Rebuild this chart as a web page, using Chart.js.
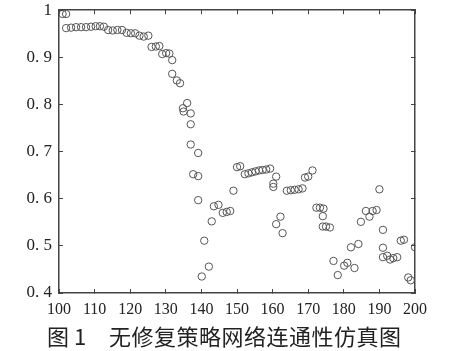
<!DOCTYPE html>
<html lang="zh">
<head>
    <meta charset="UTF-8">
    <title>无修复策略网络连通性仿真图</title>
    <script src="https://cdn.jsdelivr.net/npm/chart.js"></script>
    <style>
        body {
            margin: 0;
            background: white;
        }
        .wrap {
            position: relative;
            width: 456px;
            height: 351px;
            overflow: hidden;
        }
        /* canvas shifted up so the plot frame starts near the top edge */
        #chart {
            position: absolute;
            left: 0;
            top: -11px;
        }
        .caption {
            position: absolute;
            top: 322px;
            font-family: 'Noto Sans CJK SC', sans-serif;
            font-size: 22px;
            color: #222;
            white-space: nowrap;
            line-height: 26px;
        }
    </style>
</head>
<body>
<div class="wrap">
    <canvas id="chart" width="456" height="362"></canvas>
    <div class="caption" style="left:47px">图 1</div>
    <div class="caption" style="left:109px; letter-spacing:0.5px">无修复策略网络连通性仿真图</div>
</div>

<script>
    // points: x = round, y = connectivity
    const xs = [101, 102,
        102, 103.4, 104.8, 106.2, 107.6, 109, 110.3, 111.5, 112.6,
        113.8, 115.1, 116.4, 117.7, 119, 120.2, 121.4, 122.6, 123.8, 125.1,
        126, 127.2, 128.2, 129, 130.1, 131, 131.8, 131.8, 133.1, 134,
        134.8, 135, 136, 137, 137, 137, 139.1, 137.7, 139.1, 139.1,
        140.1, 140.8, 142.1, 142.9, 143.5, 144.8, 146, 147.1, 148.1, 149,
        150, 150.9, 152.2, 153.2, 154.2, 155.2, 156.2, 157.2, 158.2, 159.3,
        160.2, 160.2, 161, 161, 162.2, 162.8, 164, 165.1, 166.2, 167.3, 168.4,
        169.1, 170, 171.2, 172.3, 173.3, 174.3, 174.1, 174.1, 175, 176.1,
        177.1, 178.3, 180.1, 181, 182, 183, 184.1, 184.8, 186.2, 187.2, 188.1, 189.2, 190,
        191, 191, 191, 192.2, 193, 193.9, 195, 196, 196.9, 198.1, 198.8, 200];
    const ys = [0.992, 0.992,
        0.962, 0.963, 0.964, 0.964, 0.964, 0.965, 0.966, 0.966, 0.965,
        0.958, 0.957, 0.958, 0.958, 0.952, 0.951, 0.951, 0.946, 0.944, 0.946,
        0.922, 0.923, 0.924, 0.907, 0.909, 0.908, 0.894, 0.865, 0.851, 0.845,
        0.792, 0.785, 0.803, 0.781, 0.758, 0.715, 0.697, 0.652, 0.648, 0.597,
        0.435, 0.511, 0.456, 0.552, 0.584, 0.587, 0.570, 0.572, 0.574, 0.617,
        0.667, 0.669, 0.652, 0.654, 0.656, 0.658, 0.660, 0.661, 0.662, 0.664,
        0.632, 0.625, 0.647, 0.546, 0.562, 0.527, 0.617, 0.618, 0.619, 0.620, 0.622,
        0.645, 0.647, 0.660, 0.581, 0.581, 0.579, 0.563, 0.541, 0.541, 0.539,
        0.468, 0.438, 0.458, 0.464, 0.497, 0.453, 0.504, 0.551, 0.574, 0.562, 0.574, 0.576, 0.620,
        0.534, 0.496, 0.476, 0.479, 0.471, 0.474, 0.476, 0.511, 0.513, 0.433, 0.427, 0.497];

    const xTicks = [100, 110, 120, 130, 140, 150, 160, 170, 180, 190, 200];
    const yTicks = [0.4, 0.5, 0.6, 0.7, 0.8, 0.9, 1];

    const points = xs.map((x, i) => ({ x: x, y: ys[i] }));

    // matlab style: frame on all four sides, short ticks pointing inward
    const frameGrid = { drawOnChartArea: false, drawTicks: true, tickLength: -4, color: '#444', lineWidth: 1 };
    const frameBorder = { display: true, color: '#444', width: 1.5 };

    new Chart(document.getElementById('chart'), {
        type: 'scatter',
        data: {
            datasets: [{
                data: points,
                pointStyle: 'circle',
                pointRadius: 3.7,
                pointBorderWidth: 1,
                pointBorderColor: '#555',
                pointBackgroundColor: 'rgba(0,0,0,0)'
            }]
        },
        options: {
            responsive: false,
            animation: false,
            layout: { padding: { left: 0, right: 41, top: 8, bottom: 36 } },
            plugins: {
                legend: { display: false },
                tooltip: { enabled: false }
            },
            scales: {
                x: {
                    type: 'linear',
                    position: 'bottom',
                    min: 100,
                    max: 200,
                    afterBuildTicks: s => { s.ticks = xTicks.map(v => ({ value: v })); },
                    afterFit: s => { s.height = 22; },
                    grid: frameGrid,
                    border: frameBorder,
                    ticks: {
                        padding: 11,
                        color: '#222',
                        font: { family: 'Liberation Serif', size: 16 }
                    }
                },
                x2: {
                    type: 'linear',
                    axis: 'x',
                    position: 'top',
                    min: 100,
                    max: 200,
                    afterBuildTicks: s => { s.ticks = xTicks.map(v => ({ value: v })); },
                    afterFit: s => { s.height = 0; },
                    grid: frameGrid,
                    border: frameBorder,
                    ticks: { display: false }
                },
                y: {
                    type: 'linear',
                    position: 'left',
                    min: 0.4,
                    max: 1,
                    afterBuildTicks: s => { s.ticks = yTicks.map(v => ({ value: v })); },
                    afterFit: s => { s.width = 59; },
                    grid: frameGrid,
                    border: frameBorder,
                    ticks: {
                        padding: 11,
                        color: '#222',
                        font: { family: 'Liberation Serif', size: 17 },
                        callback: v => v === 1 ? '1' : v.toFixed(1).replace('.', '. ')
                    }
                },
                y2: {
                    type: 'linear',
                    axis: 'y',
                    position: 'right',
                    min: 0.4,
                    max: 1,
                    afterBuildTicks: s => { s.ticks = yTicks.map(v => ({ value: v })); },
                    afterFit: s => { s.width = 0; },
                    grid: frameGrid,
                    border: frameBorder,
                    ticks: { display: false }
                }
            }
        }
    });
</script>
</body>
</html>
